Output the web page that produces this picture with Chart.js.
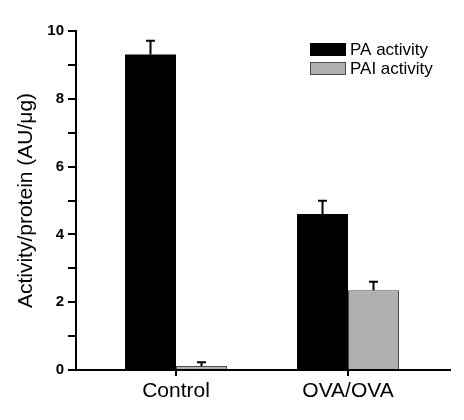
<!DOCTYPE html>
<html>
<head>
<meta charset="utf-8">
<script src="https://cdn.jsdelivr.net/npm/chart.js@4/dist/chart.umd.min.js"></script>
<style>
html,body{margin:0;padding:0;background:#fff;}
canvas{display:block;}
</style>
</head>
<body>
<canvas id="c" width="464" height="420"></canvas>
<script>
const categories = ['Control', 'OVA/OVA'];
const seriesNames = ['PA activity', 'PAI activity'];
const paValues = [9.31, 4.60];
const paErrors = [0.40, 0.39];
const paiValues = [0.12, 2.35];
const paiErrors = [0.11, 0.25];
const yTickLabels = ['0', '', '2', '', '4', '', '6', '', '8', '', '10'];

const FONT = "'Liberation Sans', Arial, Helvetica, sans-serif";

const errorBars = {
  id: 'errorBars',
  afterDatasetsDraw(chart) {
    const ctx = chart.ctx;
    const ys = chart.scales.y;
    chart.data.datasets.forEach((ds, i) => {
      const meta = chart.getDatasetMeta(i);
      meta.data.forEach((el, j) => {
        const v = ds.data[j].y;
        const e = ds.errors[j];
        const yTop = ys.getPixelForValue(v + e);
        ctx.save();
        ctx.strokeStyle = '#000';
        ctx.lineWidth = 2;
        ctx.beginPath();
        ctx.moveTo(el.x, el.y);
        ctx.lineTo(el.x, yTop);
        ctx.moveTo(el.x - 4.5, yTop);
        ctx.lineTo(el.x + 4.5, yTop);
        ctx.stroke();
        ctx.restore();
      });
    });
  }
};

const legendBoxes = {
  id: 'legendBoxes',
  afterDraw(chart) {
    const ctx = chart.ctx;
    const x0 = 310, y0 = 43, bw = 36, bh = 13, gap = 19;
    chart.data.datasets.forEach((ds, i) => {
      const y = y0 + i * gap;
      ctx.save();
      ctx.fillStyle = ds.backgroundColor;
      ctx.fillRect(x0, y, bw, bh);
      ctx.strokeStyle = ds.borderColor;
      ctx.lineWidth = 1;
      ctx.strokeRect(x0 + 0.5, y + 0.5, bw - 1, bh - 1);
      ctx.fillStyle = '#000';
      ctx.font = '17px ' + FONT;
      ctx.textBaseline = 'middle';
      ctx.textAlign = 'left';
      ctx.fillText(ds.label, x0 + bw + 4, y + bh / 2 + 1);
      ctx.restore();
    });
  }
};

const mk = (vals) => vals.map((v, i) => ({ x: i, y: v }));

new Chart(document.getElementById('c'), {
  type: 'bar',
  data: {
    datasets: [
      {
        label: seriesNames[0],
        data: mk(paValues),
        errors: paErrors,
        backgroundColor: '#000000',
        borderColor: '#000000',
        borderWidth: 0
      },
      {
        label: seriesNames[1],
        data: mk(paiValues),
        errors: paiErrors,
        backgroundColor: '#b0b0b0',
        borderColor: '#4a4a4a',
        borderWidth: 1
      }
    ]
  },
  options: {
    responsive: false,
    animation: false,
    barPercentage: 1,
    categoryPercentage: 0.593,
    layout: { padding: { top: 31, right: 14, left: 0, bottom: 0 } },
    plugins: { legend: { display: false }, tooltip: { enabled: false } },
    scales: {
      x: {
        type: 'linear',
        offset: false,
        min: -0.5814,
        max: 1.593,
        afterBuildTicks(scale) { scale.ticks = categories.map((c, i) => ({ value: i })); },
        afterFit(scale) { scale.height = 50; },
        ticks: {
          autoSkip: false,
          maxRotation: 0,
          padding: 3,
          color: '#000',
          font: { family: FONT, size: 21 },
          callback: (v) => categories[v]
        },
        grid: { offset: false, drawOnChartArea: false, drawTicks: true, tickLength: 6, color: '#000', lineWidth: 2 },
        border: { display: true, color: '#000', width: 2 }
      },
      y: {
        min: 0,
        max: 10,
        afterFit(scale) { scale.width = 76; },
        ticks: {
          stepSize: 1,
          padding: 4,
          color: '#000',
          font: { family: FONT, size: 15, weight: 'bold' },
          callback: (v, i) => yTickLabels[Math.round(v)]
        },
        grid: { drawOnChartArea: false, drawTicks: true, tickLength: 8, color: '#000', lineWidth: 2 },
        border: { display: true, color: '#000', width: 2 },
        title: {
          display: true,
          text: 'Activity/protein (AU/μg)',
          color: '#000',
          font: { family: FONT, size: 21 },
          padding: { top: 14, bottom: 0 }
        }
      }
    }
  },
  plugins: [errorBars, legendBoxes]
});
</script>
</body>
</html>
